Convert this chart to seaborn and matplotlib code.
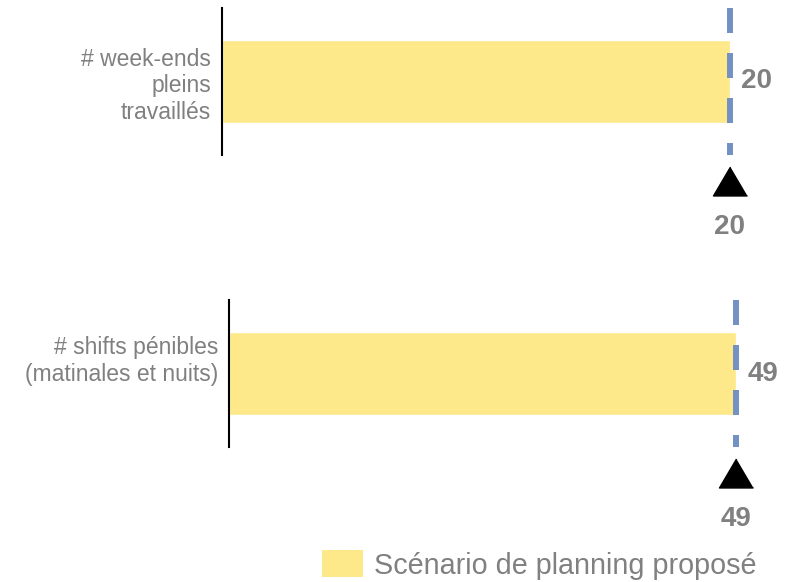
import matplotlib
matplotlib.use("Agg")
import matplotlib.pyplot as plt
import matplotlib.transforms as mtransforms
from matplotlib.patches import Patch
import seaborn as sns

# Data
labels = ["# week-ends\npleins\ntravaillés", "# shifts pénibles\n(matinales et nuits)"]
scenario = [20, 49]   # bar values (scénario proposé)
reference = [20, 49]  # triangle markers + dashed line
legend_label = "Scénario de planning proposé"

bar_color = "#FDE88A"
line_color = "#7391C2"
text_color = "#808080"

sns.set_style("white")
plt.rcParams["font.family"] = ["Liberation Sans", "DejaVu Sans"]
plt.rcParams["lines.scale_dashes"] = False

fig = plt.figure(figsize=(7.93, 5.82), dpi=100)
W, H = 793, 582

# axes boxes in pixels: (left, top, right, bottom)
boxes = [(222, 8, 729.5, 155), (229, 300, 736.5, 447)]
label_shift = [0, 12]

for i, (lab, val, ref) in enumerate(zip(labels, scenario, reference)):
    l, t, r, b = boxes[i]
    ax = fig.add_axes([l / W, 1 - b / H, (r - l) / W, (b - t) / H])
    sns.barplot(x=[val], y=[lab], color=bar_color, orient="h", width=0.8,
                saturation=1, ax=ax)
    ax.set_xlim(0, val)
    ax.set_ylim(0.717, -0.717)
    ax.set_xlabel("")
    ax.set_ylabel("")
    ax.set_xticks([])
    for side in ["top", "right", "bottom"]:
        ax.spines[side].set_visible(False)
    ax.spines["left"].set_color("black")
    ax.spines["left"].set_linewidth(1.5)
    ax.tick_params(axis="y", length=0, pad=8, labelsize=16.5, labelcolor=text_color)
    for tl in ax.get_yticklabels():
        tl.set_linespacing(1.2)
        if label_shift[i]:
            tl.set_transform(tl.get_transform() + mtransforms.ScaledTranslation(
                0, label_shift[i] / 72, fig.dpi_scale_trans))

    trans = mtransforms.blended_transform_factory(ax.transData, ax.transAxes)
    # dashed line, drawn top to bottom so the pattern starts at the top
    ax.plot([ref, ref], [1, 0], transform=trans, color=line_color, lw=4.3,
            dashes=(18, 14.4), clip_on=False, solid_capstyle="butt",
            dash_capstyle="butt")
    # value label next to the bar
    ax.annotate(f"{val}", xy=(val, 0), xytext=(8, 0), textcoords="offset points",
                ha="left", va="center", fontsize=20, fontweight="bold",
                color=text_color, annotation_clip=False)
    # triangle marker and its label below the axes
    ax.plot([ref], [-0.18], transform=trans, marker=[(0, 0.85), (-1, -0.85), (1, -0.85)],
            markersize=24.5, color="black", clip_on=False, linestyle="none")
    ax.text(ref, -0.49, f"{ref}", transform=trans, ha="center", va="center",
            fontsize=20, fontweight="bold", color=text_color)

fig.legend(handles=[Patch(facecolor=bar_color, edgecolor="none", label=legend_label)],
           loc="center right", bbox_to_anchor=(756 / W, 1 - 565 / H),
           frameon=False, fontsize=20.7, labelcolor=text_color,
           handlelength=1.4, handleheight=1.05, handletextpad=0.38,
           borderpad=0, borderaxespad=0)

fig.savefig("out.png", dpi=100)
